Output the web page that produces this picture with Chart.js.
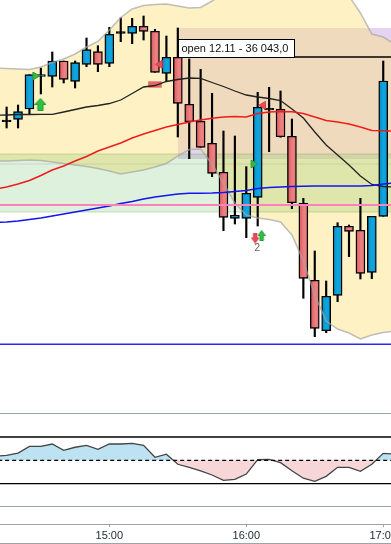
<!DOCTYPE html>
<html>
<head>
<meta charset="utf-8">
<script src="https://cdn.jsdelivr.net/npm/chart.js@4"></script>
<style>
  html, body { margin: 0; padding: 0; background: #fff; overflow: hidden; }
  #wrap { width: 391px; height: 543px; border-bottom: 1px solid #9aa4ab; }
</style>
</head>
<body>
<div id="wrap"><canvas id="grafico"></canvas></div>
<script>
// horas de las velas de 5 minutos (la primera y la ultima solo para las medias)
const lineTimes = ['14:10','14:15','14:20','14:25','14:30','14:35','14:40','14:45','14:50','14:55',
  '15:00','15:05','15:10','15:15','15:20','15:25','15:30','15:35','15:40','15:45','15:50','15:55',
  '16:00','16:05','16:10','16:15','16:20','16:25','16:30','16:35','16:40','16:45','16:50','16:55',
  '17:00','17:05']
const candleTimes = lineTimes.slice(1, 35)
const axisLabels = ['15:00', '16:00', '17:00']

const opens = [35978.3,35980.7,35991,36023.7,36023.7,36039,36018.7,36035.7,36048.3,36036.7,36066.7,36066.7,
  36073.7,36068.7,36026.7,36042.7,35995.7,35978.7,35956.7,35927.7,35881.7,35881.7,35902.7,35990,35990.7,
  35963.7,35896.7,35819.7,35769.3,35804.7,35873.7,35869.7,35827.7,35883.7]
const highs = [35993,35995,36025.3,36032,36048,36039,36039,36062,36054.3,36072.7,36082.3,36081.7,
  36084,36070.7,36064,36072,36041,36030.7,36006.7,35969,35964,35933.3,36007.7,36012.7,36009,
  35981,35901.7,35849,35819,35877.3,35875,35901.7,35883.7,36039]
const lows = [35972,35972,35986,36006,36013,36017,36012,36033.3,36028.3,36033.3,36058.3,36056.3,
  36060,36027.7,36018.3,35963,35941.3,35952.7,35923.3,35869.3,35876,35862.3,35874,35948.3,35962.7,
  35891.3,35801.7,35763.3,35767.3,35798.3,35843.3,35821,35821.3,35883.7]
const closes = [35978.3,35988.3,36025.3,36025.3,36039,36020.7,36037.3,36050.3,36035.7,36065.7,36066.7,36073.7,
  36068.7,36027.7,36042.7,35996.7,35978.3,35952.7,35926.7,35882.7,35884.7,35906.7,35992.7,35990,35963.3,
  35897.3,35821.7,35771.7,35803.7,35873.7,35868.7,35826.7,35883.7,36019]

// medias y banda
const blackMa = [35984.7,35985,35985.5,35985.5,35985.7,35985.7,35988,35990.5,35993,35994.5,35996.5,36000,
  36006.5,36013,36014.5,36018.5,36020.5,36022,36021.7,36017.5,36013.5,36009,36005,36003,36001.5,35999.5,
  35991,35982,35968,35955,35945,35935,35924,35915.5,35913.5,35913]
const redMa = [35911,35913,35916,35919.5,35924.5,35930,35934,35939,35943.5,35949,35953,35957,35962,35966,
  35969.5,35973,35975.5,35978,35980,35981.8,35983,35983.5,35983,35986.5,35988,35988.5,35988.3,35986.5,
  35983,35979.5,35978,35976,35973,35969.5,35969.3,35969]
const blueMa = [35877.5,35878,35879,35880.5,35882,35884,35886,35888,35890,35892,35894,35896.5,35898.5,35901,
  35903,35904.5,35906,35906.8,35906.8,35907,35907.5,35908.5,35909.5,35911.5,35912.5,35913,35913.5,35913.8,
  35914,35914,35914,35914,35914,35914.5,35916,35917]
const bandUpper = [36032,36031.5,36031,36030.5,36033,36037.5,36041,36046,36053,36058.5,36070,36082.5,36091,
  36094.5,36095.5,36096,36094,36092,36092.5,36099,36106,36110,36112,36114,36115,36115,36115,36115,36114,
  36112,36108,36104,36087,36066,36063,36056]
const bandLower = [35939,35939,35939.5,35940,35939.5,35938,35936.5,35935,35933.5,35931.5,35929,35926,35928,
  35930,35933,35936.5,35944,35950.5,35951,35936,35917,35897,35885,35882,35880.5,35878,35865,35839,35805,
  35779,35771,35767,35761,35765,35767.5,35769]

// oscilador de abajo
const oscValues = [18,21,31,60,60,70,43,56,64,47,70,70,73,64,13,26,-17,-30,-45,-63,-86,-82,-59,3,4,-10,-45,
  -77,-90,-69,-30,-30,-47,-17,30,26]

// niveles horizontales
const openPrice = 36043
const pinkLevel = 35895
const blueLevel = 35755.7
const zoneTop = 36072
const zoneBottom = 35941
const greenTop = 35946
const greenBottom = 35888
const greenMiddle = 35936
const redBox = [36012.7, 36018.3]
const openLabel = 'open 12.11 - 36 043,0'
const signalCount = '2'

// marcas {minuto, precio}
const bigUpArrows = [[869.8, 35995.5]]
const smallUpArrows = [[966.7, 35864.5]]
const smallDownArrows = [[963.9, 35862]]
const greenTriangles = [[867.5, 36024], [963.1, 35936]]
const redTriangles = [[922.2, 36035.7], [967.4, 35994.7]]


function aMinutos(hora) {
  const partes = hora.split(':')
  return parseInt(partes[0], 10) * 60 + parseInt(partes[1], 10)
}

const xMin = 852.1
const xMax = 1023.4

const serie = (valores) => valores.map((v, i) => ({ x: aMinutos(lineTimes[i]), y: v }))
const nivel = (v, desde = xMin - 10, hasta = xMax + 10) => [{ x: desde, y: v }, { x: hasta, y: v }]
const marcas = (lista) => lista.map(m => ({ x: m[0], y: m[1] }))

// flecha dibujada en un canvas para usarla como pointStyle
function flecha(w, h, color, borde, abajo) {
  const c = document.createElement('canvas')
  c.width = w
  c.height = h
  const ctx = c.getContext('2d')
  if (abajo) {
    ctx.translate(0, h)
    ctx.scale(1, -1)
  }
  const t = w * 0.22
  ctx.beginPath()
  ctx.moveTo(w / 2, 0.5)
  ctx.lineTo(w - 0.5, h * 0.5)
  ctx.lineTo(w / 2 + t, h * 0.5)
  ctx.lineTo(w / 2 + t, h - 0.5)
  ctx.lineTo(w / 2 - t, h - 0.5)
  ctx.lineTo(w / 2 - t, h * 0.5)
  ctx.lineTo(0.5, h * 0.5)
  ctx.closePath()
  ctx.fillStyle = color
  ctx.fill()
  ctx.strokeStyle = borde
  ctx.lineWidth = 1
  ctx.stroke()
  return c
}

const linea = (data, color, ancho, extra = {}) => ({
  type: 'line', data, borderColor: color, borderWidth: ancho, pointRadius: 0, fill: false, tension: 0, ...extra
})
const puntos = (data, extra) => ({
  type: 'line', data, showLine: false, pointBorderWidth: 1, fill: false, ...extra
})

const candleX = candleTimes.map(aMinutos)
const subida = (i) => closes[i] >= opens[i]
const esDoji = (i) => closes[i] === opens[i]

// degradado horizontal de cada vela
function colorVela(c) {
  const i = c.dataIndex
  if (i === undefined || esDoji(i)) return '#000'
  const px = c.chart.scales.x.getPixelForValue(candleX[i])
  const g = c.chart.ctx.createLinearGradient(px - 4, 0, px + 4, 0)
  if (subida(i)) {
    g.addColorStop(0, '#0a8cc8')
    g.addColorStop(0.5, '#10a6de')
    g.addColorStop(1, '#0b9ad4')
  } else {
    g.addColorStop(0, '#dc5a5e')
    g.addColorStop(0.6, '#ec8283')
    g.addColorStop(1, '#e87478')
  }
  return g
}

const mechas = {
  type: 'bar', grouped: false, barThickness: 1.5, backgroundColor: '#000', borderWidth: 0,
  data: candleX.map((x, i) => ({ x, y: [lows[i], highs[i]] }))
}
const cuerpos = {
  type: 'bar', grouped: false, barThickness: 9, minBarLength: 1.6, borderSkipped: false, borderWidth: 1.4,
  borderColor: '#000',
  backgroundColor: colorVela,
  data: candleX.map((x, i) => ({ x, y: [opens[i], closes[i]] }))
}

// de atras hacia delante
const capas = [
  linea(nivel(zoneTop, 930), 'transparent', 0, { fill: '+1', backgroundColor: 'rgba(130,60,190,0.22)' }),
  linea(nivel(zoneBottom, 930), 'transparent', 0),
  linea(serie(bandUpper), 'transparent', 0, { fill: '+1', backgroundColor: 'rgba(252,225,130,0.47)' }),
  linea(serie(bandLower), 'transparent', 0),
  linea(nivel(greenTop), 'rgba(110,170,70,0.35)', 1, { fill: '+1', backgroundColor: 'rgba(60,170,50,0.17)' }),
  linea(nivel(greenBottom), 'rgba(110,170,70,0.35)', 1),
  linea(nivel(greenMiddle), 'rgba(130,130,130,0.22)', 1),
  mechas,
  cuerpos,
  { type: 'bar', grouped: false, barThickness: 13, backgroundColor: '#e8686c', borderColor: '#d94f55', borderWidth: 1,
    borderSkipped: false, data: [{ x: aMinutos('15:20'), y: redBox }] },
  linea(serie(bandUpper), 'rgba(165,165,165,0.7)', 1.5),
  linea(serie(bandLower), 'rgba(165,165,165,0.7)', 1.5),
  linea(serie(blackMa), '#222', 1.3),
  linea(serie(redMa), '#f01c1c', 1.5),
  linea(serie(blueMa), '#1414f0', 1.5),
  linea(nivel(pinkLevel), '#ff7fbf', 2),
  linea(nivel(blueLevel), '#2b2be6', 1.5),
  linea(nivel(openPrice, 930), '#000', 1.3),
  puntos(marcas(greenTriangles), { pointStyle: 'triangle', pointRotation: 90, pointRadius: 4.5,
    backgroundColor: '#37b54a', borderColor: '#2a9a3c' }),
  puntos(marcas(redTriangles), { pointStyle: 'triangle', pointRotation: -90, pointRadius: 4.5,
    backgroundColor: '#e8505a', borderColor: '#cf3f48' }),
  puntos(marcas(bigUpArrows), { pointStyle: flecha(12, 13, '#2ec040', '#1f9a30', false) }),
  puntos(marcas(smallUpArrows), { pointStyle: flecha(8, 11, '#2ec040', '#1f9a30', false) }),
  puntos(marcas(smallDownArrows), { pointStyle: flecha(8, 11, '#ea4a55', '#d03a45', true) }),
  // oscilador
  linea(serie(oscValues), '#444', 1.3, {
    yAxisID: 'osc',
    fill: { target: { value: 0 }, above: '#bde3f2', below: '#f6d6d6' }
  }),
  linea(nivel(100), '#000', 1.3, { yAxisID: 'osc' }),
  linea(nivel(-100), '#000', 1.3, { yAxisID: 'osc' }),
  linea(nivel(0), '#000', 1.3, { yAxisID: 'osc', borderDash: [4, 3] })
]
capas.forEach((c, i) => { c.order = capas.length - i })


// etiqueta de la apertura y el numero de señales
const textos = {
  id: 'textos',
  afterDatasetsDraw(chart) {
    const ctx = chart.ctx
    const x = chart.scales.x
    const y = chart.scales.y
    const bx = Math.round(x.getPixelForValue(930)) + 0.5
    const by = Math.round(y.getPixelForValue(openPrice)) + 0.5
    ctx.save()
    ctx.fillStyle = '#fff'
    ctx.strokeStyle = '#000'
    ctx.lineWidth = 1
    ctx.fillRect(bx, by - 18, 116, 18)
    ctx.strokeRect(bx, by - 18, 116, 18)
    ctx.fillStyle = '#111'
    ctx.font = '11px "Liberation Sans"'
    ctx.textAlign = 'left'
    ctx.textBaseline = 'middle'
    ctx.fillText(openLabel, bx + 3, by - 8.5)
    ctx.font = '10px "Liberation Sans"'
    ctx.fillStyle = '#6a5a50'
    ctx.textAlign = 'center'
    ctx.fillText(signalCount, x.getPixelForValue(964.8), y.getPixelForValue(35852))
    ctx.restore()
  }
}

new Chart(document.getElementById('grafico'), {
  type: 'line',
  data: { datasets: capas },
  plugins: [textos],
  options: {
    responsive: true,
    maintainAspectRatio: false,
    animation: false,
    layout: { padding: 0, autoPadding: false },
    plugins: { legend: { display: false }, tooltip: { enabled: false } },
    scales: {
      x: {
        type: 'linear',
        position: 'bottom',
        offset: false,
        min: xMin,
        max: xMax,
        afterBuildTicks(s) { s.ticks = axisLabels.map(l => ({ value: aMinutos(l) })) },
        afterFit(s) {
          s.height = 19
          s.paddingLeft = 0
          s.paddingRight = 0
        },
        grid: { offset: false, drawOnChartArea: false, drawTicks: true, tickLength: 3, color: '#9aa4ab' },
        border: { display: true, color: '#9aa4ab', width: 1 },
        ticks: {
          maxRotation: 0,
          autoSkip: false,
          padding: 2,
          color: '#1c2730',
          font: { family: 'Liberation Sans', size: 11 },
          callback(v) { return axisLabels.find(l => aMinutos(l) === v) }
        }
      },
      y: {
        type: 'linear',
        stack: 'paneles',
        stackWeight: 400,
        weight: 1,
        min: 35700,
        max: 36100,
        afterFit(s) { s.width = 0 },
        grid: { display: false },
        border: { display: false },
        ticks: { display: false }
      },
      osc: {
        type: 'linear',
        stack: 'paneles',
        stackWeight: 124,
        weight: 0,
        min: -273.4,
        max: 258.8,
        afterFit(s) { s.width = 0 },
        afterBuildTicks(s) { s.ticks = [{ value: 200 }, { value: -200 }] },
        grid: { color: '#9aa4ab', drawTicks: false },
        border: { display: false },
        ticks: { display: false }
      }
    }
  }
})
</script>
</body>
</html>
